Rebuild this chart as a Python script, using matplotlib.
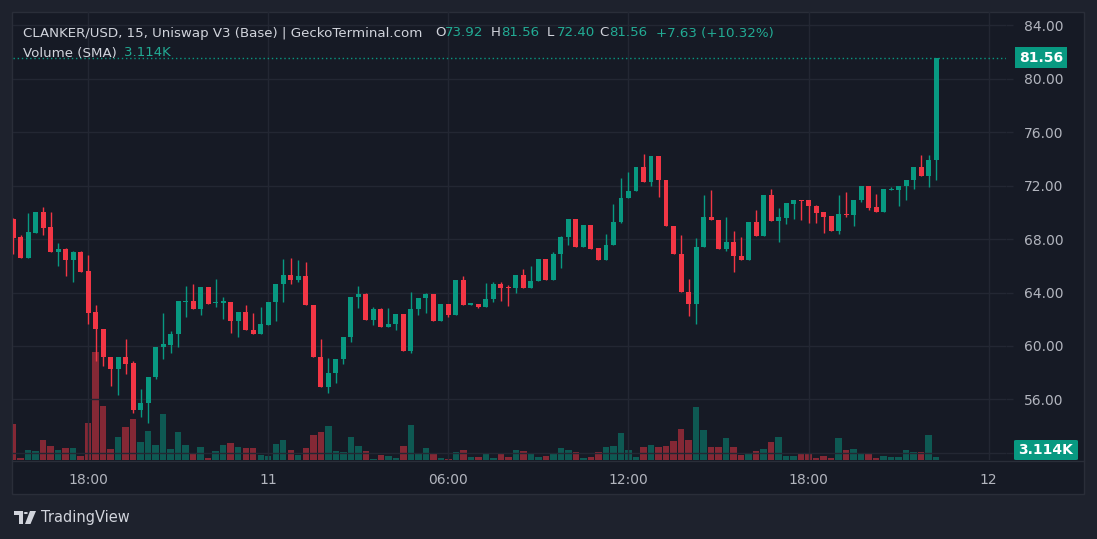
import matplotlib
matplotlib.use("Agg")
import matplotlib.pyplot as plt
import matplotlib.transforms as mtransforms
from matplotlib.patches import Rectangle, Polygon, Circle, FancyBboxPatch
import numpy as np
import pandas as pd

# 15 minute candles, CLANKER/USD
opens = [
    69.5, 68.15, 66.6, 68.45, 70.0, 68.9, 67.05, 67.25, 66.4, 67.0,
    65.6, 62.55, 61.3, 59.2, 58.3, 59.2, 58.7, 55.2, 55.7, 57.7,
    59.9, 60.1, 60.9, 63.3, 63.4, 62.77, 64.4, 63.2, 63.25, 63.3,
    61.9, 62.54, 61.2, 60.9, 61.6, 63.3, 64.6, 65.3, 64.96, 65.2,
    63.1, 59.2, 56.95, 57.97, 59.0, 60.67, 63.66, 63.9, 61.96, 62.77,
    61.44, 61.64, 62.4, 59.64, 62.77, 63.59, 63.89, 61.9, 63.14, 62.3,
    64.94, 63.1, 63.14, 62.94, 63.5, 64.64, 64.4, 64.35, 65.31, 64.3,
    64.86, 66.51, 64.94, 66.88, 68.15, 69.5, 67.4, 69.05, 67.3, 66.43,
    67.56, 69.28, 71.07, 71.6, 73.4, 72.27, 74.2, 72.44, 69.0, 66.9,
    64.06, 63.16, 67.4, 69.65, 69.45, 67.26, 67.78, 66.75, 66.46, 69.28,
    68.25, 71.3, 69.37, 69.6, 70.65, 70.92, 70.92, 70.5, 70.0, 69.7,
    68.6, 69.88, 69.8, 70.9, 71.97, 70.4, 70.03, 71.7, 71.7, 71.97,
    72.4, 73.4, 72.72, 73.92,
]
highs = [
    69.6, 68.3, 69.95, 70.0, 70.4, 70.0, 67.7, 67.35, 67.1, 67.1,
    66.8, 63.04, 61.3, 59.2, 59.2, 60.5, 58.9, 56.8, 57.7, 59.9,
    62.5, 61.1, 63.36, 64.5, 64.64, 64.4, 64.4, 65.0, 63.66, 63.3,
    62.54, 63.06, 62.47, 62.9, 63.3, 64.64, 66.5, 66.57, 66.45, 66.3,
    63.1, 60.5, 59.1, 59.0, 60.67, 63.66, 64.5, 63.96, 62.9, 62.84,
    62.84, 62.4, 62.4, 64.04, 63.59, 63.96, 63.89, 63.14, 63.14, 64.94,
    65.23, 63.14, 63.14, 64.71, 64.78, 64.8, 64.56, 65.31, 65.76, 65.98,
    66.51, 66.51, 67.0, 68.22, 69.5, 69.5, 69.05, 69.05, 67.3, 68.38,
    70.62, 72.57, 73.02, 73.4, 74.37, 74.2, 74.2, 72.44, 69.0, 68.3,
    65.0, 68.08, 71.3, 71.67, 69.45, 69.65, 68.6, 68.15, 69.28, 70.17,
    71.3, 71.75, 70.32, 70.7, 70.92, 70.92, 70.92, 70.55, 70.0, 69.7,
    71.3, 71.52, 70.92, 71.97, 71.97, 71.4, 71.75, 71.9, 71.97, 72.42,
    73.4, 74.29, 74.29, 81.56,
]
lows = [
    66.9, 66.6, 66.6, 68.45, 68.3, 67.05, 66.0, 65.2, 64.8, 65.55,
    61.66, 58.9, 58.5, 57.0, 56.35, 57.9, 55.0, 54.7, 54.25, 57.5,
    59.0, 59.5, 59.95, 62.2, 62.77, 62.3, 63.16, 62.9, 62.04, 61.0,
    60.7, 61.2, 60.9, 60.9, 61.6, 61.9, 63.3, 64.6, 64.8, 63.1,
    59.2, 56.9, 56.5, 57.2, 58.67, 60.3, 62.86, 61.96, 61.6, 61.44,
    61.44, 61.2, 59.64, 59.5, 62.3, 62.47, 61.9, 61.83, 62.15, 62.3,
    63.1, 63.1, 62.87, 62.94, 63.3, 63.36, 63.0, 63.96, 64.3, 64.3,
    64.86, 64.94, 64.94, 65.83, 67.56, 67.4, 67.4, 67.26, 66.43, 66.43,
    67.56, 69.2, 71.07, 71.6, 72.27, 72.0, 71.17, 69.0, 66.9, 64.06,
    62.26, 61.66, 67.4, 69.45, 67.26, 67.1, 65.56, 66.46, 66.46, 68.25,
    68.25, 69.37, 67.78, 69.1, 69.5, 69.4, 69.2, 69.2, 68.48, 68.6,
    68.4, 69.65, 68.98, 70.8, 70.2, 70.03, 70.03, 71.7, 70.47, 70.92,
    71.75, 72.72, 71.9, 72.40,
]
closes = [
    68.1, 66.6, 68.5, 70.0, 68.85, 67.05, 67.25, 66.4, 67.05, 65.55,
    62.5, 61.3, 59.2, 58.3, 59.2, 58.67, 55.2, 55.7, 57.7, 59.9,
    60.15, 60.9, 63.36, 63.4, 62.77, 64.4, 63.16, 63.3, 63.3, 61.9,
    62.54, 61.2, 60.9, 61.64, 63.3, 64.64, 65.3, 64.96, 65.2, 63.1,
    59.2, 56.95, 57.97, 59.0, 60.67, 63.66, 63.89, 61.96, 62.77, 61.44,
    61.64, 62.4, 59.64, 62.77, 63.59, 63.89, 61.9, 63.14, 62.3, 64.94,
    63.1, 63.14, 62.94, 63.5, 64.64, 64.34, 64.35, 65.31, 64.3, 64.86,
    66.51, 64.94, 66.88, 68.15, 69.5, 67.4, 69.05, 67.26, 66.43, 67.56,
    69.28, 71.07, 71.6, 73.4, 72.27, 74.2, 72.44, 69.0, 66.9, 64.06,
    63.16, 67.4, 69.65, 69.45, 67.26, 67.78, 66.75, 66.46, 69.28, 68.25,
    71.3, 69.37, 69.65, 70.7, 70.92, 70.85, 70.5, 69.97, 69.65, 68.6,
    69.88, 69.8, 70.92, 71.97, 70.32, 70.03, 71.75, 71.75, 71.97, 72.42,
    73.4, 72.72, 73.92, 81.56,
]
# volume in K
volumes = [
    37, 2.3, 10, 9, 21, 15, 10, 12, 12, 4,
    38, 112, 56, 11, 24, 34, 43, 19, 30, 16,
    48, 11, 29, 16, 6, 13, 2, 9, 16, 18,
    14, 12, 12, 5, 4, 17, 21, 10, 5, 12,
    26, 29, 35, 9, 8, 24, 15, 9, 1, 5,
    4, 2, 15, 36, 7, 12, 7, 2, 1, 8,
    10, 3, 3, 7, 2, 7, 3, 10, 9, 6,
    3, 4, 7, 12, 10, 8, 2, 3, 8, 14,
    15, 28, 10, 3, 14, 16, 14, 15, 20, 32,
    21, 55, 31, 14, 14, 23, 14, 5, 6, 9,
    11, 19, 24, 4, 4, 6, 6, 2, 4, 2,
    23, 10, 11, 6, 6, 2, 4, 3, 3, 10,
    8, 8, 26, 3.114,
]

first_bar = "2024-12-10 15:30"
price_ticks = [52, 56, 60, 64, 68, 72, 76, 80, 84]
time_tick_times = ["2024-12-10 18:00", "2024-12-11 00:00", "2024-12-11 06:00",
                   "2024-12-11 12:00", "2024-12-11 18:00", "2024-12-12 00:00"]
time_tick_labels = ["18:00", "11", "06:00", "12:00", "18:00", "12"]

title = "CLANKER/USD, 15, Uniswap V3 (Base) | GeckoTerminal.com"
change_text = "+7.63 (+10.32%)"
volume_title = "Volume (SMA)"
volume_value = "3.114K"

# colours
OUTER = "#1e222d"
BG = "#161a25"
BORDER = "#2a2e39"
GRID = "#232733"
TEXT = "#b2b5be"
TITLE = "#d1d4dc"
UP = "#089981"
DOWN = "#f23645"
UP_TEXT = "#22ab94"

W, H = 1097, 539
fig = plt.figure(figsize=(W / 100, H / 100), dpi=100, facecolor=OUTER)


def fx(px):
    return px / W


def fy(py):
    return 1 - py / H


# chart frame
fig.patches.append(Rectangle((fx(12), fy(494)), fx(1084) - fx(12), fy(12) - fy(494),
                             transform=fig.transFigure, facecolor=BG,
                             edgecolor=BORDER, linewidth=1, zorder=0))
fig.lines.append(plt.Line2D([fx(12), fx(1084)], [fy(460.5), fy(460.5)],
                            transform=fig.transFigure, color=BORDER, lw=1))

rect = [fx(12.7), fy(460), fx(1006) - fx(12.7), fy(12) - fy(460)]
vol_ax = fig.add_axes(rect)
ax = fig.add_axes(rect)
vol_ax.set_zorder(1)
ax.set_zorder(2)
for a in (ax, vol_ax):
    a.patch.set_visible(False)
    for s in a.spines.values():
        s.set_visible(False)

times = pd.date_range(first_bar, periods=len(closes), freq="15min")
x = np.arange(len(closes))
o = np.array(opens)
c = np.array(closes)
colors = np.where(c >= o, UP, DOWN)

# volume
vol_ax.bar(x, volumes, width=0.86, color=colors, alpha=0.5, linewidth=0)
vol_ax.set_ylim(0, 465)
vol_ax.set_xlim(-0.05, 132.3)
vol_ax.set_xticks([])
vol_ax.set_yticks([])

# candles
ax.vlines(x, lows, highs, colors=colors, linewidth=1, zorder=3)
body_low = np.minimum(o, c)
body_h = np.maximum(np.abs(c - o), 0.08)
ax.bar(x, body_h, bottom=body_low, width=0.66, color=colors, linewidth=0, zorder=4)

ax.set_xlim(-0.05, 132.3)
ax.set_ylim(51.46, 85.0)

# last price line
ax.axhline(closes[-1], color=UP, linestyle=(0, (1, 2)), linewidth=1, zorder=2)

# axes, ticks, grid
tick_idx = [(pd.Timestamp(t) - times[0]) / pd.Timedelta("15min") for t in time_tick_times]
ax.set_xticks(tick_idx)
ax.set_xticklabels(time_tick_labels)
ax.set_yticks(price_ticks)
# the lowest label sits under the volume value box in the original
ax.set_yticklabels(["" if v == price_ticks[0] else f"{v:.2f}" for v in price_ticks])
ax.yaxis.tick_right()
ax.tick_params(axis="y", length=5, width=1, color=GRID, pad=8,
               labelcolor=TEXT, labelsize=10)
ax.tick_params(axis="x", length=0, pad=9, labelcolor=TEXT, labelsize=10)
ax.set_axisbelow(True)
ax.grid(True, color=GRID, linewidth=1)

# value labels on price scale
ax.text(1.0, closes[-1], f"{closes[-1]:.2f}",
        transform=mtransforms.offset_copy(
            mtransforms.blended_transform_factory(ax.transAxes, ax.transData),
            fig=fig, x=35, y=0, units="dots"),
        ha="center", va="center", color="white", fontsize=10, fontweight="bold",
        zorder=10, clip_on=False,
        bbox=dict(boxstyle="square,pad=0.25", facecolor=UP, edgecolor="none"))
fig.patches.append(FancyBboxPatch((fx(1014), fy(460)), fx(1078) - fx(1014), fy(440) - fy(460),
                                  boxstyle="round,pad=0,rounding_size=0.002",
                                  transform=fig.transFigure, facecolor=UP,
                                  edgecolor="none", zorder=5))
fig.text(fx(1046), fy(450), volume_value, ha="center", va="center",
         color="white", fontsize=10, fontweight="bold", zorder=6)

# legend texts
fs = 9.6
fig.text(fx(23), fy(33), title, color=TITLE, fontsize=fs, va="center")
ohlc = [("O", opens[-1], 435), ("H", highs[-1], 491), ("L", lows[-1], 547),
        ("C", closes[-1], 599)]
for key, val, px in ohlc:
    fig.text(fx(px), fy(33), key, color=TITLE, fontsize=fs, va="center")
    fig.text(fx(px + 10), fy(33), f"{val:.2f}", color=UP_TEXT, fontsize=fs, va="center")
fig.text(fx(656), fy(33), change_text, color=UP_TEXT, fontsize=fs, va="center")
fig.text(fx(23), fy(53), volume_title, color=TITLE, fontsize=fs, va="center")
fig.text(fx(124), fy(53), volume_value, color=UP_TEXT, fontsize=fs, va="center")

# TradingView mark
logo_color = "#d1d4dc"
fig.patches.append(Polygon([(fx(14), fy(511)), (fx(23), fy(511)), (fx(23), fy(524)),
                            (fx(19), fy(524)), (fx(19), fy(515)), (fx(14), fy(515))],
                           closed=True, transform=fig.transFigure,
                           facecolor=logo_color, edgecolor="none"))
fig.patches.append(Circle((fx(25.8), fy(513)), 2.1 / W, transform=fig.transFigure,
                          facecolor=logo_color, edgecolor="none"))
fig.patches.append(Polygon([(fx(30), fy(511)), (fx(36), fy(511)), (fx(30.5), fy(524)),
                            (fx(25), fy(524))],
                           closed=True, transform=fig.transFigure,
                           facecolor=logo_color, edgecolor="none"))
fig.text(fx(41), fy(517.5), "TradingView", color=logo_color, fontsize=10.5, va="center")

fig.savefig("out.png", dpi=100, facecolor=OUTER)
